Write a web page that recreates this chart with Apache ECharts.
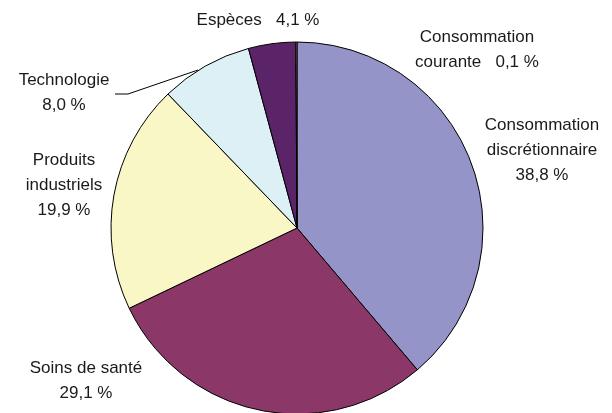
<!DOCTYPE html>
<html>
<head>
<meta charset="utf-8">
<script src="https://cdn.jsdelivr.net/npm/echarts@6/dist/echarts.min.js"></script>
<style>
html,body{margin:0;padding:0;background:#fff;}
#chart{width:612px;height:413px;}
</style>
</head>
<body>
<div id="chart"></div>
<script>
var categories = ['Consommation discrétionnaire','Soins de santé','Produits industriels','Technologie','Espèces','Consommation courante'];
var values = [38.8, 29.1, 19.9, 8.0, 4.1, 0.1];
var labelNames = ['Consommation\ndiscrétionnaire','Soins de santé','Produits\nindustriels','Technologie','Espèces','Consommation\ncourante'];
var colors = ['#9494C8','#8B3767','#F9F7C5','#DDF0F5','#5C2468','#E8836A'];

var labelPos = [
  {x:542, y:150},
  {x:86, y:381},
  {x:64, y:185},
  {x:64, y:93},
  {x:258, y:20},
  {x:477, y:50}
];

function fmt(v){ return v.toFixed(1).replace('.', ',') + ' %'; }

var data = categories.map(function(c, i){
  return {
    name: c,
    value: values[i],
    itemStyle: {color: colors[i]},
    labelLine: {show: i === 3, lineStyle:{color:'#000', width:1}}
  };
});

var chart = echarts.init(document.getElementById('chart'), null, {renderer:'canvas'});
chart.setOption({
  animation: false,
  backgroundColor: '#fff',
  series: [{
    type: 'pie',
    center: [297, 228],
    radius: [0, 186],
    startAngle: 90,
    clockwise: true,
    avoidLabelOverlap: false,
    silent: true,
    itemStyle: {borderColor:'#000', borderWidth:1},
    label: {
      show: true,
      position: 'outside',
      fontFamily: 'Liberation Sans, Arial, sans-serif',
      fontSize: 17,
      lineHeight: 25,
      color: '#1a1a1a',
      align: 'center',
      formatter: function(p){
        var i = p.dataIndex;
        var n = labelNames[i];
        if (i === 4) return n + '   ' + fmt(values[i]);
        if (i === 5) return 'Consommation\ncourante   ' + fmt(values[i]);
        return n + '\n' + fmt(values[i]);
      }
    },
    labelLine: {show:false},
    labelLayout: function(p){
      var pos = labelPos[p.dataIndex];
      var r = {x: pos.x, y: pos.y, align:'center', verticalAlign:'middle'};
      if (p.dataIndex === 3) {
        r.labelLinePoints = [[198,70],[128,94],[115,94]];
      }
      return r;
    },
    data: data
  }]
});
</script>
</body>
</html>
